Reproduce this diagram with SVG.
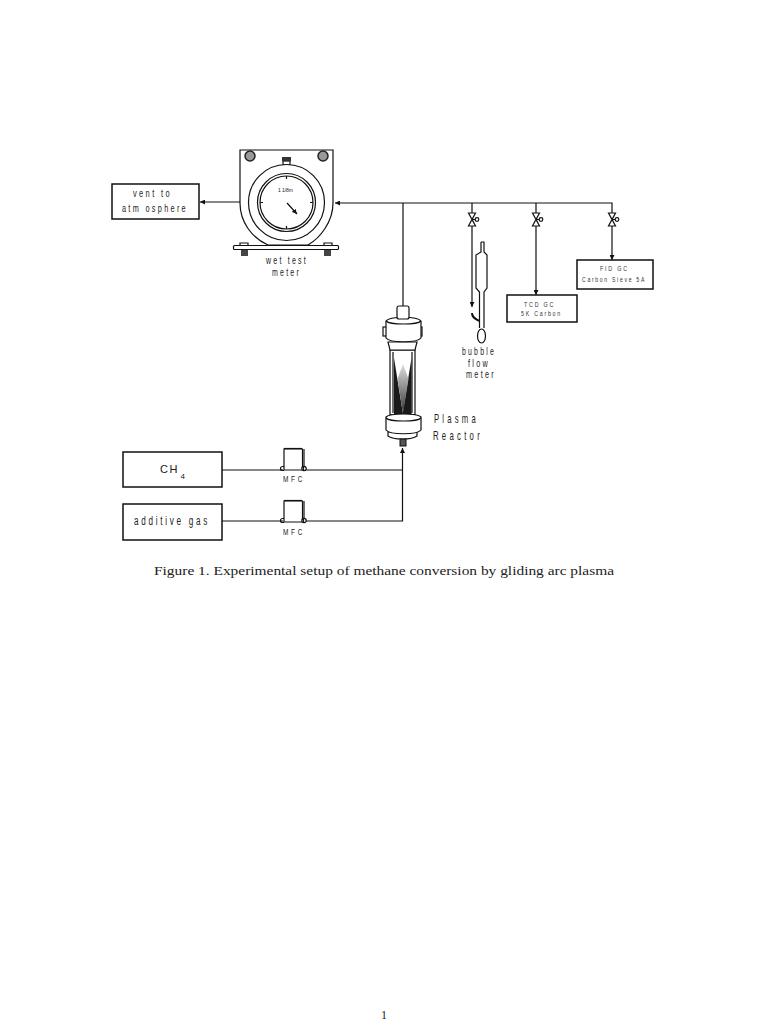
<svg xmlns="http://www.w3.org/2000/svg" width="768" height="1024" viewBox="0 0 768 1024">
<style>
.l{fill:none;stroke:#111;stroke-width:1.2}
.s{fill:#fff;stroke:#111;stroke-width:1.2}
.b{fill:#fff;stroke:#111;stroke-width:1.5}
.t{font-family:"Liberation Sans",Arial,sans-serif;fill:#222;font-size:11px;letter-spacing:3.500px}
.g{font-size:7.500px;letter-spacing:2.500px;fill:#333}
.m{font-size:9.500px;letter-spacing:4px}
.p{font-size:13px;letter-spacing:5.500px}
</style>
<defs>
<marker id="a" markerWidth="6" markerHeight="5" refX="5" refY="2.500" orient="auto" markerUnits="userSpaceOnUse"><path d="M0 0L5 2.500L0 5Z" fill="#111"/></marker>
<linearGradient id="cone" x1="0" y1="0" x2="0" y2="1"><stop offset="0" stop-color="#dedede"/><stop offset="1" stop-color="#333"/></linearGradient>
<g id="valve"><path d="M-3.500 0L3.500 0L-3.500 13L3.500 13Z" class="s"/><path d="M0 6.500H3" class="l"/><circle cx="5" cy="6.500" r="1.800" class="s"/></g>
<g id="mfc"><path d="M1 1H19.500V22H1Z" class="s"/><path d="M1 .5H19" class="l" stroke-width="1.600"/><path d="M21 1V19" class="l"/><path d="M1 18.500h-1.500a2 2 0 0 0 0 4h1.500" class="l"/><circle cx="21" cy="20.500" r="2.200" class="s"/><path d="M20.500 18.500V22.500" class="l"/></g>
</defs>

<g id="connectors">
<path d="M240 202H200" class="l" marker-end="url(#a)"/>
<path d="M612 214V203H335" class="l" marker-end="url(#a)"/>
<path d="M403 203V306" class="l"/>
<path d="M472 203V213M472 226V307" class="l" marker-end="url(#a)"/>
<path d="M536 203V213M536 226V295" class="l" marker-end="url(#a)"/>
<path d="M612 226V260" class="l" marker-end="url(#a)"/>
<path d="M222 470H283M305 470H402" class="l"/>
<path d="M222 521H283M305 521H402.500V448" class="l" marker-end="url(#a)"/>
</g>

<g id="vent"><rect x="112" y="184" width="87" height="35" class="b"/><text class="t" x="133" y="197" textLength="39" lengthAdjust="spacingAndGlyphs">vent to</text><text class="t" x="122" y="212" textLength="66" lengthAdjust="spacingAndGlyphs">atm osphere</text></g>

<g id="wet-test-meter">
<path d="M240 150H333V203C333 222 320 238 308 245H268C252 238 240 222 240 203Z" class="s"/>
<circle cx="250" cy="156" r="5" fill="#999" stroke="#222" stroke-width="1.500"/>
<circle cx="323" cy="156" r="5" fill="#999" stroke="#222" stroke-width="1.500"/>
<rect x="283" y="161" width="7" height="4" class="s"/>
<rect x="282" y="157" width="9" height="4" fill="#333"/>
<circle cx="286.500" cy="202.500" r="38" class="s"/>
<circle cx="286.500" cy="202.500" r="29" class="s"/>
<circle cx="286.500" cy="202.500" r="26.500" class="s"/>
<path d="M286.500 176V179M286.500 226V229M260 202.500H263M310 202.500H313" class="l"/>
<path d="M287 203L297 214" class="l" marker-end="url(#a)"/>
<text x="278" y="192" style="font-family:'Liberation Sans',Arial,sans-serif;font-size:5px;fill:#222" textLength="15">1 1/8m</text>
<rect x="233.500" y="245.500" width="105" height="4" rx="1" class="s"/>
<path d="M240 245.500V243H248V245.500M324 245.500V243H332V245.500" class="l"/>
<rect x="241" y="250" width="7" height="6" fill="#444"/>
<rect x="324" y="250" width="7" height="6" fill="#444"/>
<text class="t" x="266" y="264" textLength="42" lengthAdjust="spacingAndGlyphs">wet test</text>
<text class="t" x="272" y="276" textLength="29" lengthAdjust="spacingAndGlyphs">meter</text>
</g>

<g id="valves">
<use href="#valve" x="472" y="213"/>
<use href="#valve" x="536" y="213"/>
<use href="#valve" x="612" y="213"/>
</g>

<g id="bubble-flow-meter">
<path d="M481 242H484V252L487 255V288L484 292V328" class="l"/>
<path d="M481 242V252L476 255V288L479.500 292V328" class="l"/>
<path d="M472 313C472 318 476 319 479.500 321" fill="none" stroke="#111" stroke-width="2"/>
<ellipse cx="481.500" cy="336" rx="4" ry="7" class="s"/>
<text class="t" x="462" y="355" textLength="34" lengthAdjust="spacingAndGlyphs">bubble</text>
<text class="t" x="468" y="367" textLength="22" lengthAdjust="spacingAndGlyphs">flow</text>
<text class="t" x="466" y="378" textLength="30" lengthAdjust="spacingAndGlyphs">meter</text>
</g>

<g id="tcd"><rect x="507" y="295" width="70" height="27" class="b"/><text class="t g" x="524" y="307" textLength="31" lengthAdjust="spacingAndGlyphs">TCD GC</text><text class="t g" x="521" y="316" textLength="41" lengthAdjust="spacingAndGlyphs">5K Carbon</text></g>
<g id="fid"><rect x="577" y="260" width="76" height="29" class="b"/><text class="t g" x="600" y="271" textLength="29" lengthAdjust="spacingAndGlyphs">FID GC</text><text class="t g" x="582" y="282" textLength="64" lengthAdjust="spacingAndGlyphs">Carbon Sieve 5A</text></g>

<g id="plasma-reactor">
<rect x="390" y="350" width="25" height="65" class="s"/>
<path d="M393 352V413M412 352V413" class="l"/>
<path d="M394 358L403 414H394Z" fill="#1a1a1a"/>
<path d="M411.500 358L402.500 414H411.500Z" fill="#1a1a1a"/>
<path d="M403 364L397.500 379L403 414L408.500 379Z" fill="url(#cone)"/>
<rect x="383" y="327" width="4" height="9" class="s"/>
<rect x="418" y="327" width="4" height="9" class="s"/>
<path d="M388 342H417L415 350H390Z" class="s"/>
<path d="M386 321C390 316 417 316 421 321V338C417 343 390 343 386 338Z" class="s"/>
<path d="M386 321C390 325 417 325 421 321" class="l"/>
<rect x="397" y="306" width="12" height="13" rx="2" class="s"/>
<path d="M388 432H417V436C412 440 393 440 388 436Z" class="s"/>
<path d="M386 417C390 413 417 413 421 417V430C417 435 390 435 386 430Z" class="s"/>
<path d="M386 418C390 422 417 422 421 418" class="l"/>
<rect x="400" y="439" width="6" height="7" fill="#555" stroke="#111"/>
<text class="t p" x="434" y="423" textLength="45" lengthAdjust="spacingAndGlyphs">Plasma</text>
<text class="t p" x="433" y="440" textLength="50" lengthAdjust="spacingAndGlyphs">Reactor</text>
</g>

<g id="ch4"><rect x="123" y="452" width="99" height="35" class="b"/><text class="t" style="font-size:11px;letter-spacing:1.500px" x="160" y="473">CH<tspan x="180.500" dy="6" style="font-size:8px;letter-spacing:0">4</tspan></text></g>
<g id="additive-gas"><rect x="123" y="504" width="99" height="36" class="b"/><text class="t" style="font-size:12px;letter-spacing:4px" x="134" y="525" textLength="76" lengthAdjust="spacingAndGlyphs">additive gas</text></g>

<g id="mfc1"><use href="#mfc" x="283" y="448"/><text class="t m" x="283" y="482" textLength="22" lengthAdjust="spacingAndGlyphs">MFC</text></g>
<g id="mfc2"><use href="#mfc" x="283" y="500"/><text class="t m" x="283" y="535" textLength="22" lengthAdjust="spacingAndGlyphs">MFC</text></g>

<text id="caption" x="154" y="575" textLength="460" lengthAdjust="spacingAndGlyphs" style="font-family:'Liberation Serif','Times New Roman',serif;font-size:13.500px;fill:#222">Figure 1. Experimental setup of methane conversion by gliding arc plasma</text>
<text id="page" x="384" y="1019" text-anchor="middle" style="font-family:'Liberation Serif','Times New Roman',serif;font-size:12px;fill:#222">1</text>
</svg>
